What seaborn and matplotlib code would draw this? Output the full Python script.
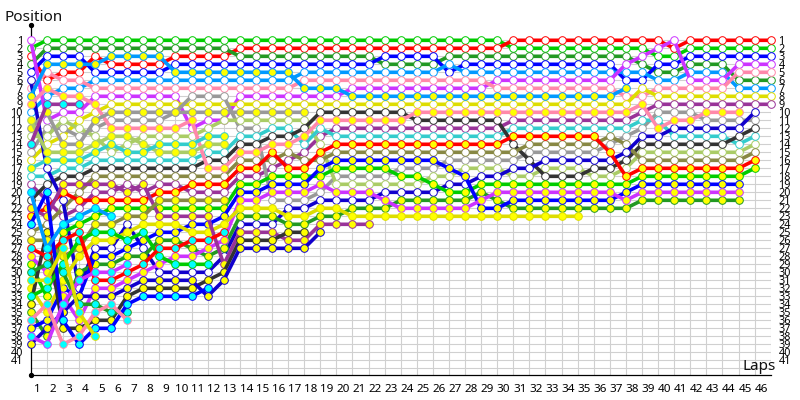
import matplotlib
matplotlib.use('Agg')
import matplotlib.pyplot as plt
import pandas as pd
import seaborn as sns

# lap chart: position of every car per lap (list index = lap, list ends when the car stops)
lime_w = [2, 1,1,1,1,1,1,1,1,1,1,1,1,1,1,1,1,1,1,1,1,1,1,1,1,1,1,1,1,1, 2,2,2,2,2,2,2,2,2, 3,3, 2,2,2,2,2,2]
red_w = [3,6,5,5,3,4,4,4,4,3,3,3,3, 2,2,2,2,2,2,2,2,2,2,2,2,2,2,2,2,2, 1,1,1,1,1,1,1,1,1,1, 2, 1,1,1,1,1,1]
dkgreen_w = [4, 2,2,2,2,2,2,2,2,2,2,2,2, 3,3,3,3,3,3,3,3,3, 4,4,4,4, 3,3,3,3,3,3,3,3,3,3,3,3, 4, 5,5, 4,4,4, 6,6,6]
blue_w = [5, 3,3,3, 5,5,5,5,5, 4,4,4,4,4,4,4,4,4,4,4,4,4, 3,3,3,3, 5, 4,4,4,4,4,4,4,4,4,4, 6,6, 4,4, 3,3,3,3,3,3]
sky_w = [10,8,7,7, 6,6,6,6,6,6,6,6,6,6,6,6,6, 5,5,5,5,5,5,5,5,5, 4, 5,5,5,5,5,5,5,5,5,5,5,5, 6,6, 5,5,5, 7,7,7]
violet_w = [1,11,10,10, 8,8,8,8,8,8, 12,11,11, 8,8,8,8,8,8,8, 7,7,7,7,7,7,7,7,7, 6,6,6,6,6,6,6,6, 4,3,2,1, 6,6,6, 4,4,4]
pink_w = [7,5,6,6, 7,7,7,7,7,7,7,7,7,7,7,7,7, 6,6,6,6,6,6,6,6,6,6,6,6, 7,7,7,7,7,7,7,7, 8,8, 7,7,7,7,7, 5,5,5]
yellow_w = [16,14,13,11,10, 9,9,9,9,9,9,9,9,9,9,9,9,9,9,9,9,9,9,9,9,9,9,9,9,9,9,9,9,9,9,9,9,9, 7, 8,8,8,8,8,8,8,8]
purple_w = [19,21,23,22,20,20,19,20,19,19,20,20,20,18,18,17,16,15,13, 12,12,12,12,12,12,12,12,12,12,12, 11,11,11,11,11,11,11,11, 10, 9,9,9,9,9,9,9,9]
gray_w = [15,12,12,13,12,11,11,11,11,10,8,8,8,12,12,21,21,21,20,18,18,18,18,17,17,17,16,16,16,16,16,15,15,15,15,15,14,13,12,10,10,10,11,11,11,11]
lightolive_w = [13,13,11,12,13,15,14,13,13,13,13,12,11,11,11,11,11,11,14,19,19,19,19,19,19,18,18,17,17,17,18,18,17,17,17,18,18,17,15,15,15,15,15,15,15,14]
cyan_w = [18,18,17,17,16,16,16,16,16,16,16,15,15,13,13,12,12,14,12,13,13,13,13,13,13,13,13,13,13,13,12,12,12,12,12,12,12,12,11,11,13,13,13,13,14,13]
black_w = [21,19,18,18,17,17,17,17,17,17,17,16,16,14,14,13,13,12,10,10,10,10,10,10,11,11,11,11,11,11,14,16,18,18,18,17,17,16,14,14,14,14,14,14,13,12]
olive_w = [25,24,22,20,18,18,18,18,18,18,18,18,18,16,16,16,15,16,16,15,15,15,15,15,15,15,15,15,15,15,15,14,14,14,14,14,13,14,16,16,16,16,16,16,16,15]
dkblue_w = [6,17,21,32,27,27,24,27,30,30,30,30,28,24,24,24,22,22,21,21,21,21,20,20,20,20,19,19,18,18,17,17,16,16,16,16,16,15,13,13,12,12,12,12,12,10]

lime_y = [29,33,25,24,23,22,22,22,22,22,22,22,22,19,19,18,18,18,18,17,17,17,17,18,18,19,20,20,19,19,19,19,19,19,19,19,19,19,18,18,18,18,18,18,18,17]
red_y = [23,22,20,21,21,21,21,21,20,20,19,19,19,17,17,15,17,17,15,14,14,14,14,14,14,14,14,14,14,14,13,13,13,13,13,13,15,18,17,17,17,17,17,17,17,16]
dkgreen_y = [35,38,35,30,29,29,28,28,26,26,27,28,27,23,23,23,24,24,23,23,22,22,22,21,21,21,21,21,20,21,22,22,22,22,22,22,22,22,21,21,21,21,21,21,21]
blue_y = [37,36,32,33,28,28,27,26,25,25,24,24,23,20,20,19,19,19,17,16,16,16,16,16,16,16,17,18,22,22,21,21,21,21,21,21,21,20,19,19,19,19,19,19,19]
sky_y = [8,4,4,4,4,3,3,3,3,5,5,5,5,5,5,5,5,7,7,7,8,8,8,8,8,8,8,8,8,8,8,8,8,8,8,8,8,7]
violet_y = [28,30,33,36,32,32,31,30,29,28,28,27,26,21,21,20,20,20,19,20,20,20,21,22,22,22,22,22,21,20,20,20,20,20,20,20,20,21,20,20,20,20,20,20,20]
pink_y = [9,7,8,8,9,12,12,12,12,12,11,17,17,15,15,14,14,13,11,11,11,11,11,11,10,10,10,10,10,10,10,10,10,10,10,10,10,10,9,12,11,11,10,10,10]
yellow_y = [32,35,31,28,26,26,25,24,24,24,25,25,24,22,22,22,23,23,22,22,23,23,23,23,23,23,23,23,23,23,23,23,23,23,23]
purple_y = [22,23,19,19,19,19,20,19,23,23,23,23,29,25,25,25,26,26,24,24,24,24]
gray_y = [12,10,14,14,11,10,10,10,10,10,10,10,10,10,10,10,10,10]
lightolive_y = [11,15,15,15,14,13,13,14,15,15,15,14,14]
cyan_y = [17,16,16,16,15,14,15,15,14,14,14,13,13]
black_y = [34,25,37,37,36,36,33,32,32,32,32,31,30,26,26,26,25,25]
olive_y = [26,26,28,27,24,24,23,23,21,21,21,21,21]
dkblue_y = [39,37,35,33,33,33,32,31,31,31,31,33,31,27,27,27,27,27,25]

lime_c = [33,32,29,26,25,25,26,25,28,29,29,29]
red_c = [27,28,26,25,31,31,30,29,27,27,26,26,25]
dkgreen_c = [30,29,30,34,34,35,35]
blue_c = [24,20,36,39,37,37,34,33,33,33,33,32]
sky_c = [20,27,24,23,22,23]
violet_c = [38,39,34,31,30,30,29]
pink_c = [36,34,39,38,35,34,36]
yellow_c = [31,31,27,35,38]
purple_c = [14,9,9,9]

LIME = '#00cc00'
RED = '#ff0000'
DKGREEN = '#229922'
BLUE = '#0000ff'
SKY = '#0099ff'
VIOLET = '#cc33ff'
PINK = '#ff88aa'
YELLOW = '#dddd00'
PURPLE = '#993399'
GRAY = '#999999'
LIGHTOLIVE = '#aacc66'
CYAN = '#33cccc'
BLACK = '#333333'
OLIVE = '#888844'
DKBLUE = '#1100cc'

WHITE_FILL = '#ffffff'
YELLOW_FILL = '#ffff00'
CYAN_FILL = '#00ffff'

cars = [
    (lime_w, LIME, WHITE_FILL), (red_w, RED, WHITE_FILL), (dkgreen_w, DKGREEN, WHITE_FILL),
    (blue_w, BLUE, WHITE_FILL), (sky_w, SKY, WHITE_FILL), (violet_w, VIOLET, WHITE_FILL),
    (pink_w, PINK, WHITE_FILL), (yellow_w, YELLOW, WHITE_FILL), (purple_w, PURPLE, WHITE_FILL),
    (gray_w, GRAY, WHITE_FILL), (lightolive_w, LIGHTOLIVE, WHITE_FILL), (cyan_w, CYAN, WHITE_FILL),
    (black_w, BLACK, WHITE_FILL), (olive_w, OLIVE, WHITE_FILL), (dkblue_w, DKBLUE, WHITE_FILL),
    (lime_y, LIME, YELLOW_FILL), (red_y, RED, YELLOW_FILL), (dkgreen_y, DKGREEN, YELLOW_FILL),
    (blue_y, BLUE, YELLOW_FILL), (sky_y, SKY, YELLOW_FILL), (violet_y, VIOLET, YELLOW_FILL),
    (pink_y, PINK, YELLOW_FILL), (yellow_y, YELLOW, YELLOW_FILL), (purple_y, PURPLE, YELLOW_FILL),
    (gray_y, GRAY, YELLOW_FILL), (lightolive_y, LIGHTOLIVE, YELLOW_FILL), (cyan_y, CYAN, YELLOW_FILL),
    (black_y, BLACK, YELLOW_FILL), (olive_y, OLIVE, YELLOW_FILL), (dkblue_y, DKBLUE, YELLOW_FILL),
    (lime_c, LIME, CYAN_FILL), (red_c, RED, CYAN_FILL), (dkgreen_c, DKGREEN, CYAN_FILL),
    (blue_c, BLUE, CYAN_FILL), (sky_c, SKY, CYAN_FILL), (violet_c, VIOLET, CYAN_FILL),
    (pink_c, PINK, CYAN_FILL), (yellow_c, YELLOW, CYAN_FILL), (purple_c, PURPLE, CYAN_FILL),
]

lap_numbers = list(range(1, 47))
position_numbers = list(range(1, 42))

W, H = 800, 400
x0, x1 = 30.7, 770.7      # pixel of lap 0 and lap 46
y1_px, dy = 40.3, 8.0     # pixel of position 1, pixels per position
top_px, bottom_px = 25.0, 375.3

sns.set_theme(style='white')
plt.rcParams['font.family'] = ['Noto Sans', 'DejaVu Sans']

fig = plt.figure(figsize=(8, 4), dpi=100)
ax = fig.add_axes([x0 / W, 1 - bottom_px / H, (x1 - x0) / W, (bottom_px - top_px) / H])
ax.set_xlim(0, 46)
ax.set_ylim(1 + (bottom_px - y1_px) / dy, 1 + (top_px - y1_px) / dy)
bottom_pos = ax.get_ylim()[0]

# grid starts at position 1, nothing above it
ax.hlines(range(1, 43), 0, 46, color='#d0d0d0', lw=0.8, zorder=0)
ax.vlines(range(1, 47), 1, bottom_pos, color='#d0d0d0', lw=0.8, zorder=0)

for i, (positions, color, fill) in enumerate(cars):
    df = pd.DataFrame({'lap': range(len(positions)), 'pos': positions})
    sns.lineplot(data=df, x='lap', y='pos', ax=ax, color=color, linewidth=2.6, marker='o', markersize=5.5,
                 markerfacecolor=fill, markeredgecolor=color, markeredgewidth=0.7,
                 estimator=None, sort=False, legend=False, clip_on=False, zorder=3 + i * 0.01)

for side in ['top', 'right']:
    ax.spines[side].set_visible(False)
for side in ['left', 'bottom']:
    ax.spines[side].set_color('black')
    ax.spines[side].set_linewidth(0.9)
ax.plot([0, 0], [ax.get_ylim()[1], bottom_pos], ls='none', marker='o', ms=2.8, color='black', clip_on=False, zorder=5)

ax.set_xticks([n - 0.6 for n in lap_numbers], labels=[str(n) for n in lap_numbers])
ax.set_yticks(position_numbers, labels=[str(n) for n in position_numbers])
ax.tick_params(axis='x', bottom=False, length=0, pad=6.0, labelsize=8.4, colors='black')
ax.tick_params(axis='y', left=False, right=False, length=0, labelleft=True, labelright=True, pad=5.6, labelsize=7.8, colors='black')
ax.set_xlabel('')
ax.set_ylabel('')

fig.text(4 / W, 1 - 21 / H, 'Position', fontsize=11, color='#111111')
fig.text(743 / W, 1 - 370 / H, 'Laps', fontsize=11, color='#111111')

fig.savefig('out.png', dpi=100)
